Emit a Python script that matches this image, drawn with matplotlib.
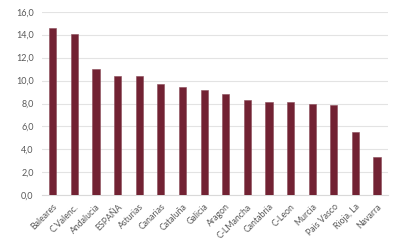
import matplotlib
matplotlib.use("Agg")
import matplotlib.pyplot as plt
from matplotlib.ticker import FuncFormatter, MultipleLocator

categories = ["Baleares", "C.Valenc.", "Andalucia", "ESPAÑA", "Asturias", "Canarias",
              "Cataluña", "Galicia", "Aragon", "C-LMancha", "Cantabria", "C-Leon",
              "Murcia", "Pais Vasco", "Rioja, La", "Navarra"]
values = [14.6, 14.1, 11.0, 10.4, 10.4, 9.7, 9.4, 9.2, 8.8, 8.3, 8.1, 8.1, 8.0, 7.9, 5.5, 3.3]

plt.rcParams['font.family'] = ['Lato', 'DejaVu Sans']
fig = plt.figure(figsize=(3.93, 2.46), dpi=100)
ax = fig.add_axes([0.1069, 0.206, 0.88, 0.7464])

x = list(range(len(categories)))
ax.bar(x, values, width=0.33, color="#722233", edgecolor="#8a4a58", linewidth=0.4, zorder=3)
ax.set_xlim(-0.5, len(categories) - 0.5)
ax.set_ylim(0, 16)
ax.yaxis.set_major_locator(MultipleLocator(2))
ax.yaxis.set_major_formatter(FuncFormatter(lambda v, p: f"{v:.1f}".replace(".", ",")))
ax.grid(axis="y", color="#e3e3e3", linewidth=0.8, zorder=0)
for s in ["top", "right", "left"]:
    ax.spines[s].set_visible(False)
ax.spines["bottom"].set_color("#d9d9d9")
ax.spines["bottom"].set_linewidth(0.8)
ax.tick_params(axis="y", length=0, pad=6, labelsize=6.5, labelcolor="#595959")
ax.tick_params(axis="x", length=0, pad=5, labelsize=6.3, labelcolor="#595959")
ax.set_xticks(x)
ax.set_xticklabels(categories, rotation=45, ha="right", rotation_mode="anchor")

fig.savefig("out.png", dpi=100)
